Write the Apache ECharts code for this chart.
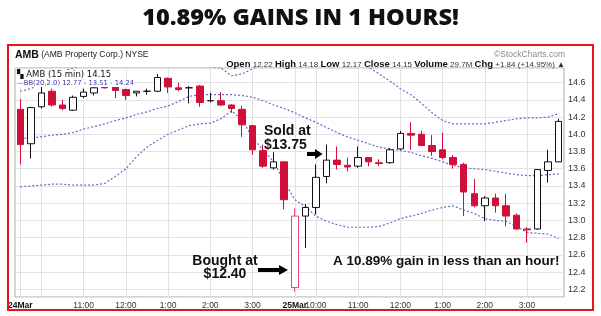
<!DOCTYPE html>
<html><head><meta charset="utf-8">
<script src="https://cdn.jsdelivr.net/npm/echarts@6/dist/echarts.min.js"></script>
<style>html,body{margin:0;padding:0;background:#fff}#c{width:601px;height:316px}</style>
</head><body><div id="c"></div>
<script>
const categories = ["24Mar 9:30","24Mar 9:45","24Mar 10:00","24Mar 10:15","24Mar 10:30","24Mar 10:45","24Mar 11:00","24Mar 11:15","24Mar 11:30","24Mar 11:45","24Mar 12:00","24Mar 12:15","24Mar 12:30","24Mar 12:45","24Mar 1:00","24Mar 1:15","24Mar 1:30","24Mar 1:45","24Mar 2:00","24Mar 2:15","24Mar 2:30","24Mar 2:45","24Mar 3:00","24Mar 3:15","24Mar 3:30","24Mar 3:45",
"25Mar 9:30","25Mar 9:45","25Mar 10:00","25Mar 10:15","25Mar 10:30","25Mar 10:45","25Mar 11:00","25Mar 11:15","25Mar 11:30","25Mar 11:45","25Mar 12:00","25Mar 12:15","25Mar 12:30","25Mar 12:45","25Mar 1:00","25Mar 1:15","25Mar 1:30","25Mar 1:45","25Mar 2:00","25Mar 2:15","25Mar 2:30","25Mar 2:45","25Mar 3:00","25Mar 3:15","25Mar 3:30","25Mar 3:45"];

const opens  = [14.29,13.89,14.32,14.50,14.34,14.28,14.44,14.48,14.55,14.55,14.52,14.48,14.50,14.50,14.65,14.54,14.54,14.56,14.39,14.39,14.34,14.29,14.10,13.81,13.61,13.68,
                12.22,13.05,13.15,13.51,13.70,13.64,13.63,13.73,13.67,13.67,13.83,14.01,14.00,13.87,13.82,13.73,13.65,13.31,13.17,13.26,13.17,13.06,12.90,12.90,13.58,13.68];
const closes = [13.88,14.31,14.48,14.34,14.30,14.43,14.49,14.54,14.54,14.51,14.45,14.50,14.50,14.66,14.55,14.52,14.54,14.37,14.39,14.34,14.30,14.11,13.82,13.63,13.68,13.24,
                13.05,13.15,13.50,13.70,13.65,13.62,13.73,13.68,13.66,13.82,14.01,13.99,13.87,13.80,13.73,13.65,13.33,13.17,13.26,13.17,13.05,12.90,12.89,13.59,13.68,14.15];
const lows   = [13.65,13.72,14.30,14.32,14.28,14.27,14.42,14.45,14.53,14.42,14.40,14.44,14.46,14.49,14.48,14.50,14.36,14.32,14.37,14.33,14.25,13.97,13.76,13.61,13.59,13.13,
                12.17,12.68,13.07,13.43,13.59,13.57,13.61,13.63,13.63,13.66,13.82,13.82,13.87,13.75,13.71,13.60,13.05,13.15,12.99,13.09,12.93,12.89,12.74,12.89,13.44,13.68];
const highs  = [14.41,14.32,14.55,14.53,14.40,14.45,14.53,14.55,14.55,14.55,14.53,14.50,14.53,14.70,14.66,14.60,14.56,14.57,14.48,14.49,14.35,14.33,14.11,13.88,13.79,13.68,
                13.14,13.19,13.65,13.88,13.86,13.73,13.86,13.73,13.71,13.84,14.04,14.14,14.04,13.99,14.02,13.76,13.67,13.48,13.28,13.31,13.31,13.08,12.92,13.59,13.82,14.18];

const bbUpper  = [14.50,14.53,14.59,14.66,14.73,14.77,14.80,14.82,14.84,14.85,14.86,14.86,14.86,14.87,14.86,14.84,14.82,14.80,14.78,14.77,14.68,14.70,14.76,14.82,14.88,14.95,
                  15.00,15.00,14.98,14.95,14.90,14.86,14.82,14.78,14.70,14.62,14.53,14.46,14.36,14.25,14.16,14.12,14.12,14.12,14.12,14.14,14.16,14.18,14.19,14.19,14.20,14.24];
const bbMiddle = [13.95,13.96,13.97,13.99,14.00,14.02,14.06,14.09,14.12,14.16,14.19,14.23,14.26,14.30,14.33,14.38,14.44,14.46,14.46,14.46,14.46,14.45,14.43,14.39,14.34,14.30,
                  14.25,14.19,14.14,14.08,14.02,13.97,13.93,13.89,13.85,13.83,13.81,13.79,13.75,13.72,13.68,13.64,13.61,13.60,13.59,13.57,13.55,13.53,13.52,13.52,13.53,13.54];
const bbLower  = [13.39,13.40,13.41,13.42,13.42,13.41,13.41,13.41,13.43,13.51,13.60,13.74,13.85,13.93,14.00,14.05,14.10,14.12,14.13,14.18,14.27,14.17,13.96,13.82,13.68,13.45,
                  13.24,13.16,13.05,12.99,12.95,12.92,12.92,12.92,12.93,12.97,13.02,13.05,13.08,13.12,13.15,13.17,13.12,13.08,13.02,13.00,12.99,12.93,12.86,12.85,12.84,12.79];

const xLabelIndex = [0,6,10,14,18,22,26,28,32,36,40,44,48];
const xGridIndex  = [0,2,6,10,14,18,22,26,28,32,36,40,44,48];
const pinkHollowIndex = [26];
const blackDojiIndex = [12,16,18];

const RED = '#d0103a';
const candleData = categories.map((c, i) => {
  const item = { value: [opens[i], closes[i], lows[i], highs[i]] };
  if (pinkHollowIndex.includes(i)) item.itemStyle = { color: '#fff', color0: '#fff', borderColor: '#e34a70', borderColor0: '#e34a70' };
  if (blackDojiIndex.includes(i)) item.itemStyle = { color: '#111', color0: '#111', borderColor: '#111', borderColor0: '#111' };
  return item;
});

const bbStyle = { color: '#6a6ac6', width: 1.2, type: [2, 2] };
const chart = echarts.init(document.getElementById('c'), null, { renderer: 'canvas' });
const FONT = '"Liberation Sans", Arial, sans-serif';

chart.setOption({
  animation: false,
  backgroundColor: '#fff',
  grid: { left: 15, right: 37, top: 68, bottom: 19, show: true, borderColor: '#a8a8a8', borderWidth: 1, backgroundColor: '#fff' },
  xAxis: {
    type: 'category', data: categories, boundaryGap: true,
    axisLine: { show: false }, axisTick: { show: false },
    axisLabel: {
      interval: (idx) => xLabelIndex.includes(idx), margin: 4,
      fontFamily: FONT, fontSize: 8.5, color: '#333',
      formatter: (v) => { const p = v.split(' '); return p[1] === '9:30' ? '{d|' + p[0] + '}' : p[1]; },
      rich: { d: { fontFamily: FONT, fontSize: 8.5, fontWeight: 'bold', color: '#111' } }
    },
    splitLine: { show: true, interval: (idx) => xGridIndex.includes(idx), alignWithLabel: true, lineStyle: { color: '#e2e2e2', width: 1 } }
  },
  yAxis: {
    type: 'value', position: 'right', min: 12.11, max: 14.77, splitNumber: 13, scale: true,
    axisLine: { show: false }, axisTick: { show: false },
    axisLabel: { showMinLabel: false, showMaxLabel: false, margin: 4, fontFamily: FONT, fontSize: 9, color: '#333', formatter: (v) => v.toFixed(1) },
    splitLine: { show: true, lineStyle: { color: '#e2e2e2', width: 1 } }
  },
  series: [
    { type: 'line', data: bbUpper, showSymbol: false, symbol: 'none', lineStyle: bbStyle, z: 1, silent: true },
    { type: 'line', data: bbMiddle, showSymbol: false, symbol: 'none', lineStyle: bbStyle, z: 1, silent: true },
    { type: 'line', data: bbLower, showSymbol: false, symbol: 'none', lineStyle: bbStyle, z: 1, silent: true },
    { type: 'candlestick', data: candleData, barWidth: 7, z: 3,
      itemStyle: { color: '#fff', color0: RED, borderColor: '#111', borderColor0: RED, borderWidth: 1 } }
  ],
  graphic: [
    { type: 'rect', shape: { x: 8, y: 45, width: 585, height: 265 }, style: { fill: 'none', stroke: '#e8141c', lineWidth: 2 }, z: 100 },
    { type: 'text', x: 300.5, y: 18, style: { text: '10.89% GAINS IN 1 HOURS!', fontFamily: '"Open Sans", sans-serif', fontWeight: 800, fontSize: 23.5, fill: '#111', align: 'center', verticalAlign: 'middle' } },
    { type: 'text', x: 15, y: 55, style: { text: '{a|AMB}{b| (AMB Property Corp.) NYSE}', verticalAlign: 'middle', rich: { a: { fontFamily: FONT, fontWeight: 'bold', fontSize: 10.5, fill: '#111' }, b: { fontFamily: FONT, fontSize: 8.5, fill: '#222' } } } },
    { type: 'text', x: 565, y: 55, style: { text: '©StockCharts.com', fontFamily: FONT, fontSize: 8.5, fill: '#8a8a8a', align: 'right', verticalAlign: 'middle' } },
    { type: 'text', x: 565, y: 64.5, z: 100, style: {
      text: '{l|Open}{v| 12.22 }{l|High}{v| 14.18 }{l|Low}{v| 12.17 }{l|Close}{v| 14.15 }{l|Volume}{v| 29.7M }{l|Chg}{v| +1.84 (+14.95%) ▲}',
      align: 'right', verticalAlign: 'middle', fontSize: 8,
      rich: { l: { fontFamily: FONT, fontWeight: 'bold', fontSize: 9.5, fill: '#111' }, v: { fontFamily: FONT, fontSize: 8, fill: '#333' } } } },
    { type: 'text', x: 17, y: 74.5, z: 100, style: { text: '▚ AMB (15 min) 14.15', fontFamily: '"DejaVu Sans", sans-serif', fontSize: 8.5, fill: '#111', verticalAlign: 'middle', backgroundColor: '#fff' } },
    { type: 'text', x: 17, y: 83.5, z: 100, style: { text: '—BB(20,2.0) 12.77 - 13.51 - 14.24', fontFamily: '"DejaVu Sans", sans-serif', fontSize: 6.8, fill: '#3a3aa0', verticalAlign: 'middle', backgroundColor: '#fff' } },
    { type: 'text', x: 264, y: 131, z: 100, style: { text: 'Sold at', fontFamily: FONT, fontWeight: 'bold', fontSize: 14, fill: '#111', verticalAlign: 'middle' } },
    { type: 'text', x: 264, y: 145, z: 100, style: { text: '$13.75', fontFamily: FONT, fontWeight: 'bold', fontSize: 14, fill: '#111', verticalAlign: 'middle' } },
    { type: 'text', x: 225, y: 261, z: 100, style: { text: 'Bought at', fontFamily: FONT, fontWeight: 'bold', fontSize: 14, fill: '#111', align: 'center', verticalAlign: 'middle' } },
    { type: 'text', x: 225, y: 274.5, z: 100, style: { text: '$12.40', fontFamily: FONT, fontWeight: 'bold', fontSize: 14, fill: '#111', align: 'center', verticalAlign: 'middle' } },
    { type: 'text', x: 333, y: 261, z: 100, style: { text: 'A 10.89% gain in less than an hour!', fontFamily: FONT, fontWeight: 'bold', fontSize: 13.5, fill: '#111', verticalAlign: 'middle' } },
    { type: 'polygon', z: 100, shape: { points: [[307,152],[315,152],[315,149],[322.5,154],[315,159],[315,156],[307,156]] }, style: { fill: '#000' } },
    { type: 'polygon', z: 100, shape: { points: [[258,268],[279,268],[279,265],[288,270],[279,275],[279,272],[258,272]] }, style: { fill: '#000' } }
  ]
});
</script></body></html>
